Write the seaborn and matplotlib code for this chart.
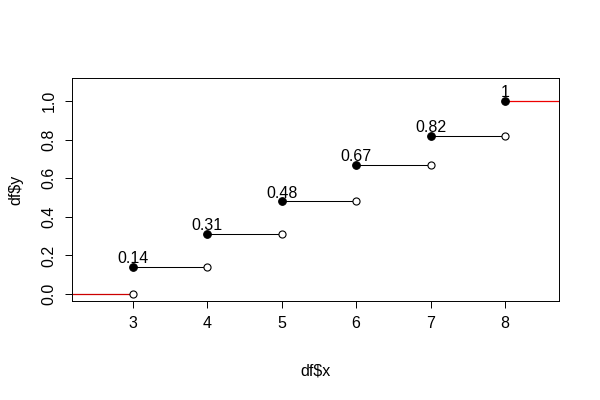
import numpy as np
import pandas as pd
import matplotlib
matplotlib.use("Agg")
import matplotlib.pyplot as plt
import seaborn as sns

# step values (cumulative proportions)
x_vals = [3, 4, 5, 6, 7, 8]
y_vals = [0.14, 0.31, 0.48, 0.67, 0.82, 1.0]
point_labels = ["0.14", "0.31", "0.48", "0.67", "0.82", "1"]
y_prev = [0.0, 0.14, 0.31, 0.48, 0.67, 0.82]

X_LIM = (2.18, 8.73)
Y_LIM = (-0.036, 1.12)
FS = 11.5

sns.set_style("white")
plt.rcParams["font.family"] = ["Liberation Sans", "DejaVu Sans"]

df = pd.DataFrame({"x": x_vals, "y": y_vals, "label": point_labels})
df_open = pd.DataFrame({"x": x_vals, "y": y_prev})

fig = plt.figure(figsize=(6, 4), dpi=100)
ax = fig.add_axes([0.12, 0.2475, 0.812, 0.5575])

# horizontal steps: from each filled point to the next x
for xi, yi in zip(x_vals[:-1], y_vals[:-1]):
    ax.hlines(yi, xi, xi + 1, color="black", linewidth=0.75, zorder=1)

# red tails at either end
ax.hlines(y_prev[0], X_LIM[0], x_vals[0], color="#cc0000", linewidth=0.9, zorder=1)
ax.hlines(y_vals[-1], x_vals[-1], X_LIM[1], color="#ee0000", linewidth=0.9, zorder=1)

sns.scatterplot(data=df_open, x="x", y="y", ax=ax, s=26, marker="o",
                facecolor="white", edgecolor="black", linewidth=0.8, zorder=3)
sns.scatterplot(data=df, x="x", y="y", ax=ax, s=30, marker="o",
                color="black", edgecolor="black", linewidth=0.8, zorder=3)

for _, row in df.iterrows():
    ax.text(row["x"], row["y"] + 0.02, row["label"], ha="center", va="baseline",
            fontsize=FS, color="black")

ax.set_xlim(*X_LIM)
ax.set_ylim(*Y_LIM)
ax.set_xticks(x_vals)
ax.set_yticks([0.0, 0.2, 0.4, 0.6, 0.8, 1.0])
ax.set_yticklabels(["0.0", "0.2", "0.4", "0.6", "0.8", "1.0"], rotation=90, va="center")

ax.tick_params(axis="both", direction="out", length=5, width=0.7, colors="black",
               labelsize=FS, pad=6, bottom=True, left=True)
for sp in ax.spines.values():
    sp.set_visible(True)
    sp.set_color("black")
    sp.set_linewidth(0.7)

ax.set_xlabel(r"df\$x", fontsize=FS, color="black", labelpad=23)
ax.set_ylabel(r"df\$y", fontsize=FS, color="black", labelpad=13)

fig.savefig("out.png", dpi=100)
